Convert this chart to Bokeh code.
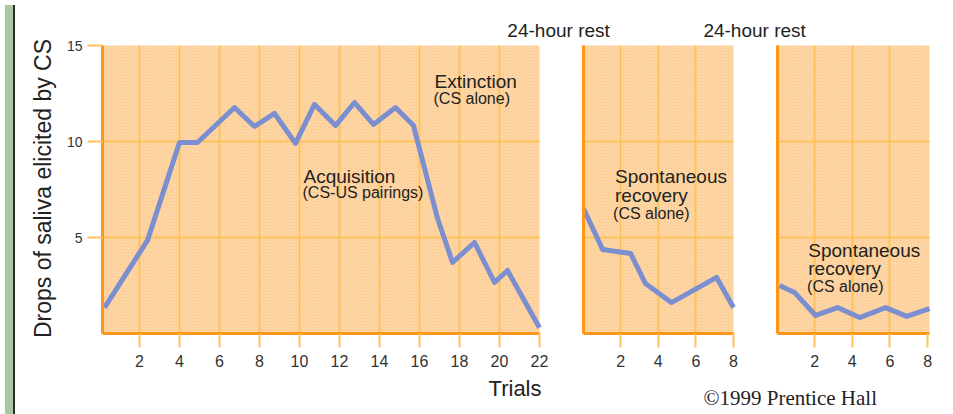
import math
from bokeh.plotting import figure
from bokeh.models import (Range1d, LinearAxis, FixedTicker, Grid, BoxAnnotation,
                          Label, Div)
from bokeh.layouts import row
from bokeh.embed import file_html
from bokeh.resources import INLINE

# ---------------- data ----------------
# Acquisition (CS-US pairings) + Extinction (CS alone)
trial_x = [0.25, 2.4, 4.0, 4.9, 6.75, 7.75, 8.75, 9.8, 10.75, 11.8, 12.75,
           13.7, 14.8, 15.7, 16.9, 17.65, 18.75, 19.75, 20.4, 22.0]
drops_y = [1.35, 4.85, 9.95, 9.95, 11.77, 10.78, 11.46, 9.9, 11.93, 10.83, 12.03,
           10.89, 11.77, 10.83, 6.0, 3.7, 4.74, 2.66, 3.28, 0.3]
# Spontaneous recovery after first 24-hour rest
rec1_x = [0.03, 1.04, 2.53, 3.32, 4.7, 7.1, 8.0]
rec1_y = [6.5, 4.38, 4.17, 2.6, 1.61, 2.92, 1.35]
# Spontaneous recovery after second 24-hour rest
rec2_x = [0.13, 0.93, 2.05, 3.22, 4.39, 5.77, 6.89, 8.1]
rec2_y = [2.5, 2.14, 0.94, 1.35, 0.83, 1.35, 0.89, 1.3]

p1_ticks = [2, 4, 6, 8, 10, 12, 14, 16, 18, 20, 22]
p2_ticks = [2, 4, 6, 8]
p3_ticks = [2, 4, 6, 8]
y_ticks = [5, 10, 15]

p1_lim = (0.15, 22.0)
p2_lim = (0.0, 8.0)
p3_lim = (0.0, 8.1)
y_lim = (0.0, 15.0)

# ---------------- layout (page pixels) ----------------
FIG_W, FIG_H = 927, 410
PAGE_L = 18                       # page x of the figure's left edge
PAGE_T = 0                        # page y of the figure's top edge
panel_px = {"p1": (100, 537), "p2": (580.5, 731), "p3": (774.5, 927)}
panel_py = (333, 45)              # page y of y_lim[0], y_lim[1]
lims = {"p1": p1_lim, "p2": p2_lim, "p3": p3_lim}


def full_x_range(name):
    (x0, x1), (a, b) = lims[name], panel_px[name]
    s = (b - a) / (x1 - x0)
    return Range1d(x0 - (a - PAGE_L) / s, x1 + (PAGE_L + FIG_W - b) / s)


def full_y_range():
    (y0, y1), (a, b) = y_lim, panel_py
    s = (a - b) / (y1 - y0)
    return Range1d(y0 - (PAGE_T + FIG_H - a) / s, y1 + (b - PAGE_T) / s)


ORANGE_FILL = "#fccf9b"
GRID_C = "#ffc25a"
AXIS_C = "#ff9619"
LINE_C = "#7b8fd0"
TEXT_C = "#222222"
SANS = "Liberation Sans"

p = figure(width=FIG_W, height=FIG_H, x_range=full_x_range("p1"),
           y_range=full_y_range(), x_axis_location=None, y_axis_location=None,
           toolbar_location=None, output_backend="svg",
           min_border_left=0, min_border_right=0,
           min_border_top=0, min_border_bottom=0)
p.extra_x_ranges = {"p2": full_x_range("p2"), "p3": full_x_range("p3")}
p.outline_line_color = None
p.background_fill_color = "white"
p.border_fill_color = "white"
p.center = [r for r in p.center if not isinstance(r, Grid)]

rn = {"p1": "default", "p2": "p2", "p3": "p3"}

# panel backgrounds
for name in ["p1", "p2", "p3"]:
    x0, x1 = lims[name]
    p.add_layout(BoxAnnotation(left=x0, right=x1, bottom=y_lim[0], top=y_lim[1],
                               x_range_name=rn[name], level="underlay",
                               fill_color=ORANGE_FILL, fill_alpha=1.0,
                               hatch_pattern="dot", hatch_color="#fff2c8",
                               hatch_scale=3, hatch_alpha=0.6,
                               line_color=None))

# grids
for name, ticks in [("p1", p1_ticks[:-1]), ("p2", p2_ticks[:-1]), ("p3", p3_ticks[:-1])]:
    p.add_layout(Grid(dimension=0, ticker=FixedTicker(ticks=ticks),
                      x_range_name=rn[name], cross_bounds=y_lim,
                      grid_line_color=GRID_C, grid_line_width=2))
    p.add_layout(Grid(dimension=1, ticker=FixedTicker(ticks=y_ticks[:-1]),
                      x_range_name=rn[name], cross_bounds=lims[name],
                      grid_line_color=GRID_C, grid_line_width=2))

# y axis (drawn at the left edge of the first panel)
yax = LinearAxis(fixed_location=p1_lim[0], ticker=FixedTicker(ticks=y_ticks),
                 bounds=y_lim,
                 major_label_text_font=SANS, major_label_text_font_size="14px",
                 major_label_text_color="#333333", major_label_standoff=5,
                 major_tick_out=15, major_tick_in=0,
                 major_tick_line_color=GRID_C, major_tick_line_width=2,
                 minor_tick_line_color=None,
                 axis_line_color=AXIS_C, axis_line_width=3)
p.add_layout(yax, "left")

# left edges of the recovery panels (tick-less axes)
for name in ["p2", "p3"]:
    p.add_layout(LinearAxis(x_range_name=rn[name], fixed_location=lims[name][0],
                            ticker=FixedTicker(ticks=[]), bounds=y_lim,
                            major_tick_line_color=None, minor_tick_line_color=None,
                            major_label_text_color=None,
                            axis_line_color=AXIS_C, axis_line_width=3), "left")

# bottom axes, one per panel
for name, ticks in [("p1", p1_ticks), ("p2", p2_ticks), ("p3", p3_ticks)]:
    ax = LinearAxis(x_range_name=rn[name], fixed_location=y_lim[0],
                    ticker=FixedTicker(ticks=ticks), bounds=lims[name],
                    major_tick_out=14, major_tick_in=0,
                    major_tick_line_color=GRID_C, major_tick_line_width=2,
                    minor_tick_line_color=None,
                    axis_line_color=AXIS_C, axis_line_width=3,
                    major_label_text_font=SANS, major_label_text_font_size="16px",
                    major_label_text_color="#333333", major_label_standoff=7)
    p.add_layout(ax, "below")

# curves
p.line(trial_x, drops_y, line_color=LINE_C, line_width=5, line_join="round")
p.line(rec1_x, rec1_y, x_range_name="p2", line_color=LINE_C, line_width=5, line_join="round")
p.line(rec2_x, rec2_y, x_range_name="p3", line_color=LINE_C, line_width=5, line_join="round")

DY = 0.36  # baseline correction for rendered labels


def lab(text, x, y, rname, size, align="left", font=SANS, baseline="alphabetic",
        angle=0.0, dy=DY):
    p.add_layout(Label(x=x, y=y + dy, x_range_name=rname, text=text, text_font=font,
                       text_font_size=size, text_color=TEXT_C, text_align=align,
                       text_baseline=baseline, angle=angle))


lab("Drops of saliva elicited by CS", -2.85, 7.55, "default", "23px",
    align="center", baseline="middle", angle=math.pi / 2, dy=0.0)
lab("Extinction", 16.75, 12.76, "default", "19px")
lab("(CS alone)", 16.7, 11.87, "default", "16px")
lab("Acquisition", 10.2, 7.81, "default", "19px")
lab("(CS-US pairings)", 10.15, 6.98, "default", "16px")
lab("Spontaneous", 1.7, 7.81, "p2", "19px")
lab("recovery", 1.7, 6.82, "p2", "19px")
lab("(CS alone)", 1.6, 5.89, "p2", "16px")
lab("Spontaneous", 1.66, 3.96, "p3", "19px")
lab("recovery", 1.66, 3.02, "p3", "19px")
lab("(CS alone)", 1.6, 2.08, "p3", "16px")
lab("24-hour rest", -4.02, 15.42, "p2", "19px")
lab("24-hour rest", -3.91, 15.42, "p3", "19px")
lab("Trials", 22.1, -3.23, "default", "22px", align="right")
lab("\u00a91999 Prentice Hall", -3.9, -3.72, "p3", "21px", font="Liberation Serif")

edge = Div(width=10, height=FIG_H, styles={"background-color": "#a9c9a2",
                                           "border-right": "2px solid #2e2e2e",
                                           "box-sizing": "border-box"})
layout = row(edge, p)

open("out.html", "w").write(file_html(layout, INLINE))
